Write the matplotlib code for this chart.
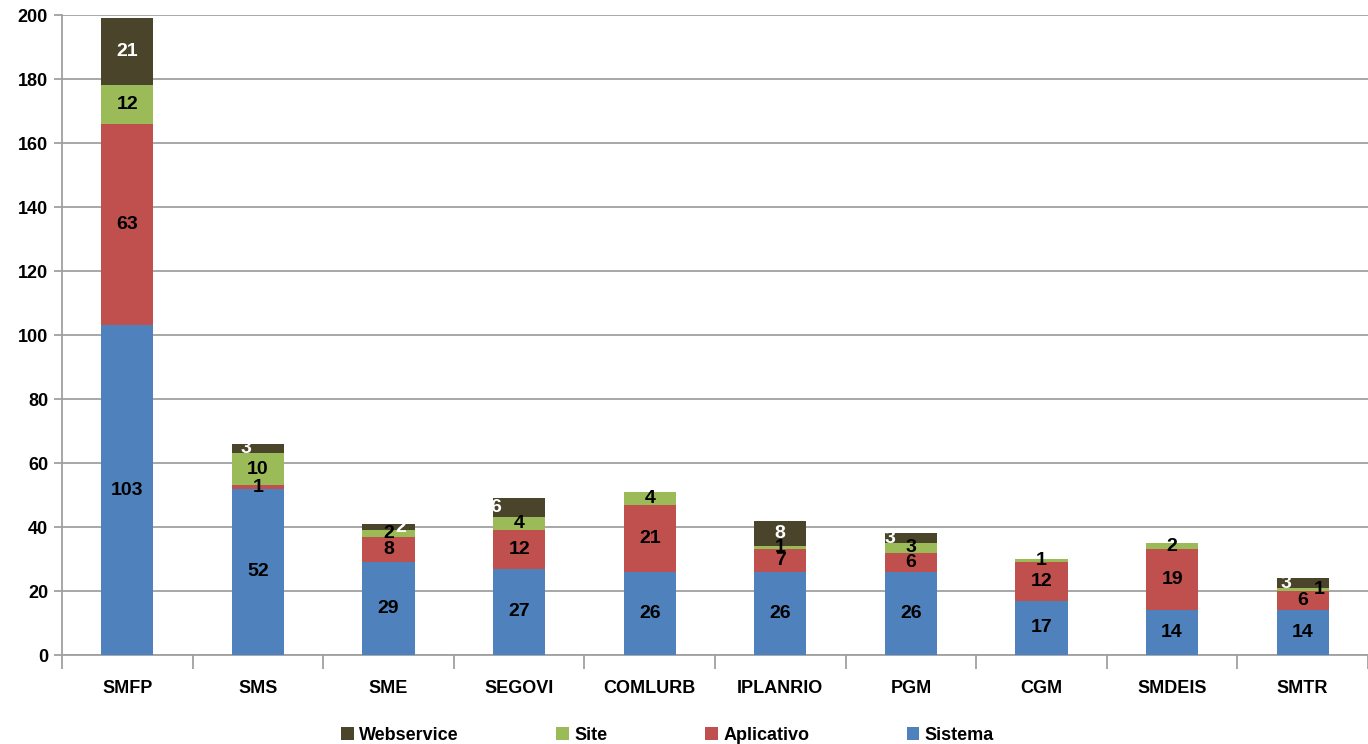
import matplotlib
matplotlib.use("Agg")
import matplotlib.pyplot as plt
import numpy as np

categories = ["SMFP", "SMS", "SME", "SEGOVI", "COMLURB", "IPLANRIO", "PGM", "CGM", "SMDEIS", "SMTR"]
sistema = [103, 52, 29, 27, 26, 26, 26, 17, 14, 14]
aplicativo = [63, 1, 8, 12, 21, 7, 6, 12, 19, 6]
site = [12, 10, 2, 4, 4, 1, 3, 1, 2, 1]
webservice = [21, 3, 2, 6, 0, 8, 3, 0, 0, 3]

series_names = ["Sistema", "Aplicativo", "Site", "Webservice"]
series_vals = [sistema, aplicativo, site, webservice]
colors = ["#4F81BD", "#C0504D", "#9BBB59", "#4A452A"]
label_colors = ["black", "black", "black", "white"]
# horizontal nudges of labels (category units), as placed in the original
nudges = {("Webservice", 1): -0.09, ("Webservice", 2): 0.09, ("Webservice", 3): -0.18,
          ("Webservice", 6): -0.16, ("Webservice", 9): -0.13, ("Site", 9): 0.13}

plt.rcParams['font.family'] = ['Liberation Sans', 'DejaVu Sans']
plt.rcParams['font.weight'] = 'bold'

fig = plt.figure(figsize=(13.68, 7.44), dpi=100)
ax = fig.add_axes([62/1368, 89/744, 1306/1368, 640/744])

x = np.arange(len(categories))
bottom = np.zeros(len(categories))
handles = {}
for name, vals, c, lc in zip(series_names, series_vals, colors, label_colors):
    vals = np.array(vals, dtype=float)
    bars = ax.bar(x, vals, 0.4, bottom=bottom, color=c, label=name, zorder=3)
    handles[name] = bars
    for i, v in enumerate(vals):
        if v > 0:
            ax.text(x[i] + nudges.get((name, i), 0), bottom[i] + v / 2, f"{int(v)}",
                    ha="center", va="center", color=lc, fontsize=14, fontweight="bold", zorder=4)
    bottom += vals

ax.set_xlim(-0.5, len(categories) - 0.5)
ax.set_ylim(0, 200)
ax.set_yticks(np.arange(0, 201, 20))
ax.yaxis.grid(True, color="#A0A0A0", linewidth=1.3, zorder=0)
ax.set_axisbelow(True)
for s in ["top", "right"]:
    ax.spines[s].set_visible(False)
ax.spines["left"].set_color("#A0A0A0")
ax.spines["bottom"].set_color("#A0A0A0")
ax.spines["left"].set_linewidth(1.3)
ax.spines["bottom"].set_linewidth(1.3)

ax.set_xticks(x)
ax.set_xticklabels(categories)
ax.tick_params(axis="x", which="major", length=0, pad=18, labelsize=13)
ax.set_xticks(np.arange(-0.5, len(categories), 1), minor=True)
ax.tick_params(axis="x", which="minor", length=10, color="#A0A0A0", width=1.3)
ax.tick_params(axis="y", length=6, color="#A0A0A0", width=1.3, labelsize=13, pad=4)
for lab in ax.get_xticklabels() + ax.get_yticklabels():
    lab.set_fontweight("bold")

order = ["Webservice", "Site", "Aplicativo", "Sistema"]
fig.legend([handles[n] for n in order], order, loc="lower center", ncol=4,
           bbox_to_anchor=(0.488, -0.022), frameon=False, fontsize=13,
           handlelength=0.7, handleheight=0.7, handletextpad=0.3, columnspacing=5.4)

fig.savefig("out.png", dpi=100)
